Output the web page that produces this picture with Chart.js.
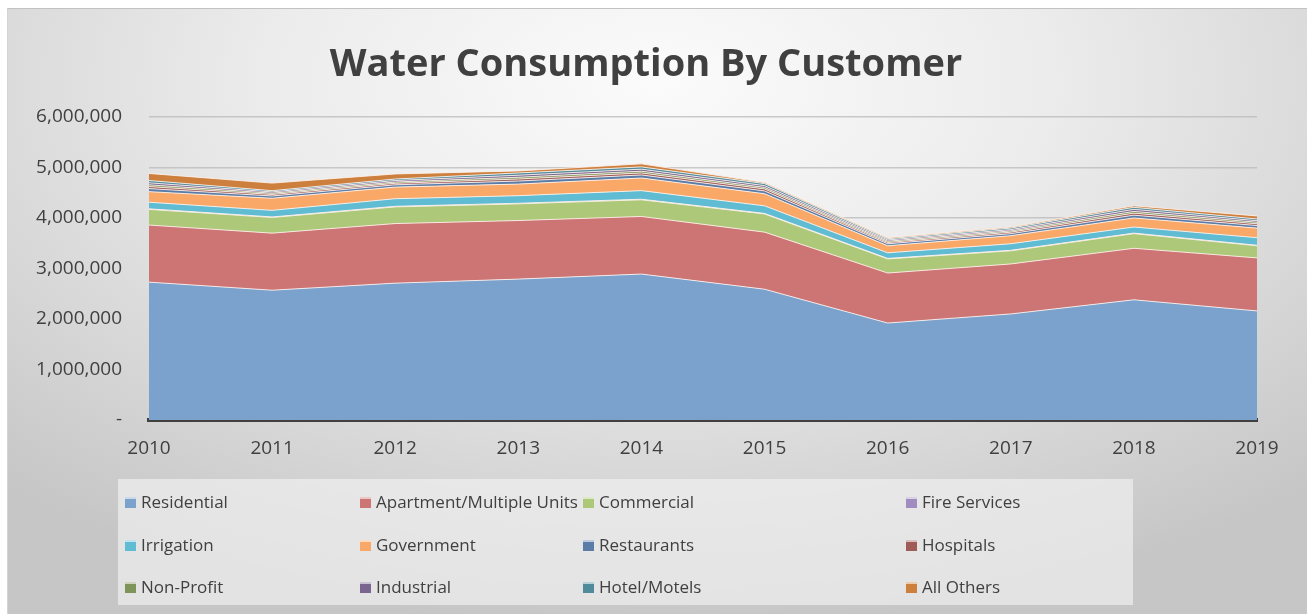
<!DOCTYPE html>
<html>
<head>
<meta charset="utf-8">
<title>Water Consumption By Customer</title>
<script src="https://cdn.jsdelivr.net/npm/chart.js@4.4.1/dist/chart.umd.min.js"></script>
<style>
  html, body { margin: 0; padding: 0; background: #fff; overflow: hidden; }
  #bg {
    position: absolute; left: 7px; top: 8px; width: 1300px; height: 606px;
    background: radial-gradient(ellipse 75% 90% at 50% 12%, #fbfbfb 0%, #ececec 40%, #d6d6d6 75%, #c6c6c6 100%);
    border-top: 1px solid #c2c2c2; border-left: 1px solid #d4d4d4;
  }
  #wrap { position: absolute; left: 0; top: 0; width: 1307px; height: 614px; }
</style>
</head>
<body>
<div id="bg"></div>
<div id="wrap"><canvas id="chart" width="1307" height="614"></canvas></div>
<script>
const years = ["2010", "2011", "2012", "2013", "2014", "2015", "2016", "2017", "2018", "2019"];
const yTicks = [0, 1000000, 2000000, 3000000, 4000000, 5000000, 6000000];

// values (gallons, approx)
const residential = [2730000, 2570000, 2710000, 2790000, 2890000, 2590000, 1920000, 2100000, 2380000, 2160000];
const apartment = [1130000, 1130000, 1180000, 1160000, 1140000, 1130000, 990000, 990000, 1020000, 1050000];
const commercial = [310000, 310000, 330000, 330000, 330000, 360000, 280000, 260000, 290000, 240000];
const fireServices = [12000, 11000, 12000, 12000, 12000, 11000, 10000, 10000, 11000, 10000];
const irrigation = [130000, 130000, 150000, 150000, 170000, 150000, 110000, 130000, 120000, 150000];
const government = [210000, 240000, 230000, 230000, 250000, 240000, 140000, 160000, 180000, 190000];
const restaurants = [60000, 45000, 45000, 60000, 60000, 55000, 40000, 40000, 55000, 50000];
const hospitals = [40000, 30000, 30000, 40000, 40000, 40000, 25000, 30000, 40000, 35000];
const nonProfit = [35000, 25000, 25000, 35000, 35000, 30000, 25000, 25000, 35000, 30000];
const industrial = [40000, 25000, 30000, 40000, 40000, 35000, 25000, 25000, 40000, 30000];
const hotelMotels = [45000, 25000, 30000, 45000, 45000, 40000, 25000, 30000, 40000, 35000];
const allOthers = [140000, 150000, 100000, 40000, 60000, 20000, 20000, 20000, 30000, 60000];

const seriesNames = ["Residential", "Apartment/Multiple Units", "Commercial", "Fire Services",
  "Irrigation", "Government", "Restaurants", "Hospitals", "Non-Profit", "Industrial",
  "Hotel/Motels", "All Others"];
const seriesData = [residential, apartment, commercial, fireServices, irrigation, government,
  restaurants, hospitals, nonProfit, industrial, hotelMotels, allOthers];
const seriesColors = ["#7ba1cd", "#cd7474", "#adc878", "#a08cc0", "#5fbcd3", "#f9a868",
  "#5b7ca6", "#a05a58", "#7f9458", "#7a6591", "#4f8b9b", "#cd7f3e"];

const FONT = "'Open Sans', 'Noto Sans', sans-serif";
const TEXT = "#404040";

// title + legend drawn by hand so they sit where Excel put them
const decorPlugin = {
  id: "decor",
  afterDraw(chart) {
    const ctx = chart.ctx;
    ctx.save();
    ctx.fillStyle = TEXT;
    ctx.font = "bold 38px " + FONT;
    ctx.textAlign = "center";
    ctx.textBaseline = "middle";
    ctx.fillText("Water Consumption By Customer", 646, 65);

    // legend box
    ctx.fillStyle = "rgba(240,240,240,0.7)";
    ctx.fillRect(118, 479, 1015, 126);
    const cols = [125, 360, 583, 906];
    const rows = [502, 545, 587];
    ctx.font = "17px " + FONT;
    ctx.textAlign = "left";
    chart.data.datasets.forEach((ds, i) => {
      const x = cols[i % 4];
      const y = rows[Math.floor(i / 4)];
      ctx.fillStyle = ds.backgroundColor;
      ctx.fillRect(x, y - 5, 11, 11);
      ctx.fillStyle = "rgba(255,255,255,0.6)";
      ctx.fillRect(x, y - 5, 11, 2);
      ctx.fillStyle = TEXT;
      ctx.fillText(ds.label, x + 16, y + 1);
    });
    ctx.restore();
  }
};

new Chart(document.getElementById("chart"), {
  type: "line",
  data: {
    labels: years,
    datasets: seriesNames.map((name, i) => ({
      label: name,
      data: seriesData[i],
      backgroundColor: seriesColors[i],
      borderColor: "rgba(255,245,238,0.85)",
      borderWidth: 1,
      pointRadius: 0,
      tension: 0,
      fill: i === 0 ? "origin" : "-1"
    }))
  },
  options: {
    responsive: false,
    animation: false,
    layout: { padding: { left: 0, right: 50, top: 117, bottom: 134 } },
    plugins: {
      legend: { display: false },
      title: { display: false },
      tooltip: { enabled: false }
    },
    scales: {
      x: {
        type: "category",
        offset: false,
        afterFit(scale) { scale.height = 60; },
        grid: { display: false, drawTicks: false },
        border: { display: true, color: "#404040", width: 4 },
        ticks: { color: TEXT, font: { family: FONT, size: 19 }, padding: 17, maxRotation: 0 }
      },
      y: {
        stacked: true,
        min: 0,
        max: 6000000,
        afterFit(scale) { scale.width = 149; },
        afterBuildTicks(scale) { scale.ticks = yTicks.map(v => ({ value: v })); },
        grid: { color: "rgba(185,185,185,0.75)", lineWidth: 1.5, drawTicks: false },
        border: { display: false },
        ticks: {
          color: TEXT,
          font: { family: FONT, size: 19 },
          padding: 27,
          callback: v => v === 0 ? "-" : v.toLocaleString("en-US")
        }
      }
    }
  },
  plugins: [decorPlugin]
});
</script>
</body>
</html>
